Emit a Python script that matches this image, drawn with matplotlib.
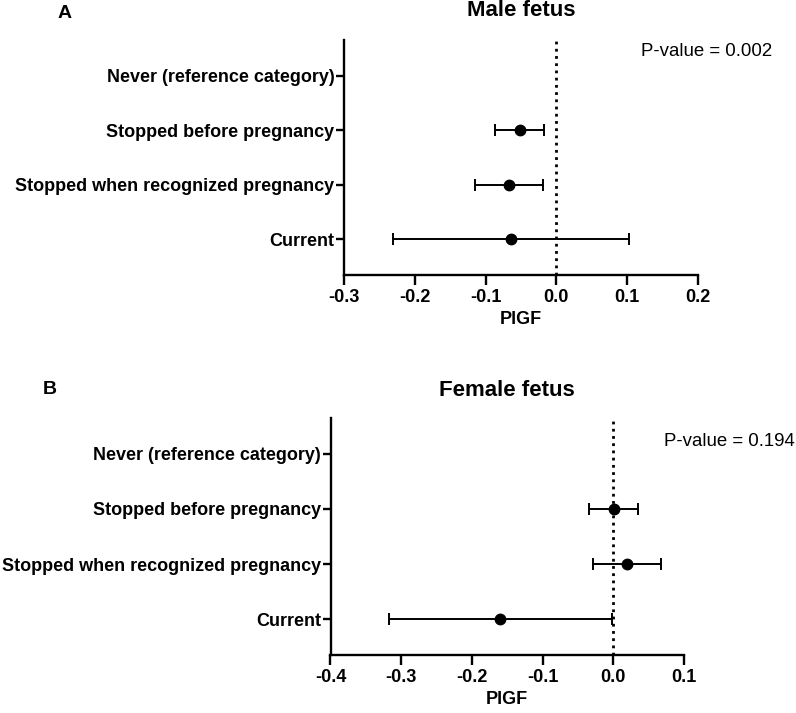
import numpy as np
import matplotlib
matplotlib.use("Agg")
import matplotlib.pyplot as plt

plt.rcParams['font.family'] = ['Liberation Sans', 'DejaVu Sans']

categories = ["Never (reference category)", "Stopped before pregnancy",
              "Stopped when recognized pregnancy", "Current"]

# panel A: male fetus (None = reference category, no estimate)
male_est = [None, -0.052, -0.067, -0.064]
male_lo = [None, -0.087, -0.115, -0.231]
male_hi = [None, -0.018, -0.019, 0.102]
male_ticks = [-0.3, -0.2, -0.1, 0.0, 0.1, 0.2]

# panel B: female fetus
female_est = [None, 0.001, 0.020, -0.160]
female_lo = [None, -0.034, -0.029, -0.317]
female_hi = [None, 0.035, 0.067, -0.002]
female_ticks = [-0.4, -0.3, -0.2, -0.1, 0.0, 0.1]

W, H = 796, 713
fig = plt.figure(figsize=(W / 100, H / 100), dpi=100)


def panel(rect, est, lo, hi, ticks, title, title_y, letter, letter_xy, pval, pval_xy):
    ax = fig.add_axes(rect)
    y = np.arange(len(categories))
    for i in range(len(categories)):
        if est[i] is None:
            continue
        ax.errorbar(est[i], y[i], xerr=[[est[i] - lo[i]], [hi[i] - est[i]]],
                    fmt='o', color='black', ms=7.5, elinewidth=1.4,
                    capsize=4.5, capthick=1.4, zorder=3)
    ax.axvline(0, color='black', ls=(0, (1, 1.6)), lw=2, zorder=2)
    ax.set_xlim(ticks[0], ticks[-1])
    ax.set_ylim(len(categories) - 0.35, -0.65)
    ax.set_yticks(y)
    ax.set_yticklabels(categories, fontsize=13, fontweight='bold')
    ax.set_xticks(ticks)
    ax.set_xticklabels([f"{t:.1f}" for t in ticks], fontsize=13, fontweight='bold')
    for s in ['top', 'right']:
        ax.spines[s].set_visible(False)
    for s in ['left', 'bottom']:
        ax.spines[s].set_linewidth(1.7)
    ax.tick_params(axis='x', length=7, width=1.7, pad=3)
    ax.tick_params(axis='y', length=6, width=1.7, pad=1)
    ax.set_xlabel("PlGF", fontsize=13, fontweight='bold', labelpad=4)
    fig.text(rect[0] + rect[2] / 2, 1 - title_y / H, title,
             ha='center', va='center', fontsize=16, fontweight='bold')
    fig.text(letter_xy[0] / W, 1 - letter_xy[1] / H, letter,
             ha='center', va='center', fontsize=14, fontweight='bold')
    fig.text(pval_xy[0] / W, 1 - pval_xy[1] / H, pval,
             ha='left', va='center', fontsize=13.4)
    return ax


ax1 = panel([344 / W, 1 - 275 / H, 354 / W, 235 / H], male_est, male_lo, male_hi,
            male_ticks, "Male fetus", 11, "A", (65, 13), "P-value = 0.002", (641, 52))
ax2 = panel([330.5 / W, 1 - 655 / H, 353.5 / W, 237 / H], female_est, female_lo, female_hi,
            female_ticks, "Female fetus", 390, "B", (50, 389), "P-value = 0.194", (664, 441))

fig.savefig("out.png", dpi=100)
